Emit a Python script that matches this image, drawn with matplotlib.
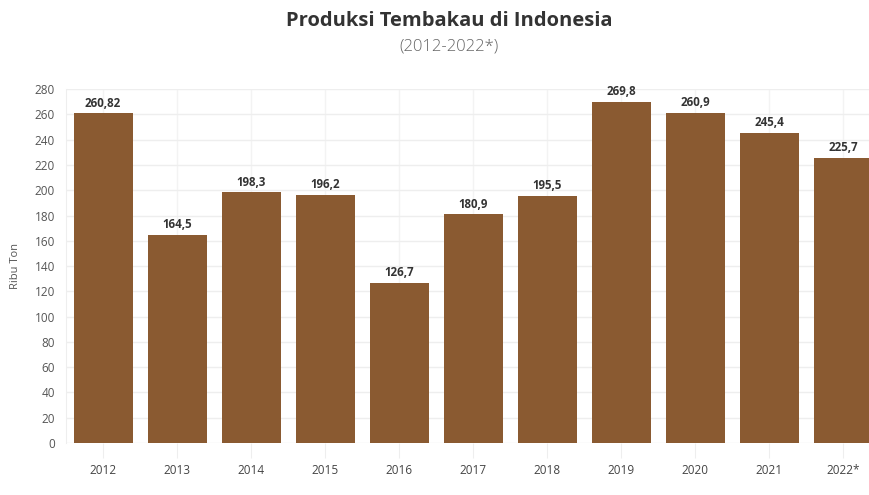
import matplotlib.pyplot as plt

years = ["2012", "2013", "2014", "2015", "2016", "2017", "2018", "2019", "2020", "2021", "2022*"]
values = [260.82, 164.5, 198.3, 196.2, 126.7, 180.9, 195.5, 269.8, 260.9, 245.4, 225.7]
labels = ["260,82", "164,5", "198,3", "196,2", "126,7", "180,9", "195,5", "269,8", "260,9", "245,4", "225,7"]
yticks = list(range(0, 281, 20))

plt.rcParams['font.family'] = ['Open Sans', 'DejaVu Sans']

fig = plt.figure(figsize=(8.7, 4.95), dpi=100)
ax = fig.add_axes([0.076, 0.105, 0.936, 0.715])

x = range(len(years))
ax.bar(x, values, width=0.8, color='#8a5a31', zorder=2)
for i, v in enumerate(values):
    ax.text(i, v + 3, labels[i], ha='center', va='bottom', fontsize=8.3,
            fontweight='bold', color='#333333', zorder=3)

ax.set_xlim(-0.5, len(years) - 0.5)
ax.set_ylim(0, 280)
ax.set_yticks(yticks)
ax.set_xticks(list(x))
ax.set_xticklabels(years)
ax.grid(axis='y', color='#eeeeee', linewidth=1, zorder=0)
ax.grid(axis='x', color='#f3f3f3', linewidth=1, zorder=0)
ax.tick_params(axis='y', length=0, labelsize=8.5, labelcolor='#555555', pad=8)
ax.tick_params(axis='x', length=11, color='#eeeeee', labelsize=8.5, labelcolor='#444444', pad=4)
for s in ['top', 'right', 'bottom']:
    ax.spines[s].set_visible(False)
ax.spines['left'].set_color('#eeeeee')
ax.set_ylabel("Ribu Ton", fontsize=8, color='#555555', labelpad=10)

fig.text(0.516, 0.957, "Produksi Tembakau di Indonesia", ha='center', va='center',
         fontsize=14.5, fontweight='bold', color='#333333')
fig.text(0.516, 0.907, "(2012-2022*)", ha='center', va='center',
         fontsize=12, fontweight='light', color='#666666')

fig.savefig("out.png", dpi=100)
